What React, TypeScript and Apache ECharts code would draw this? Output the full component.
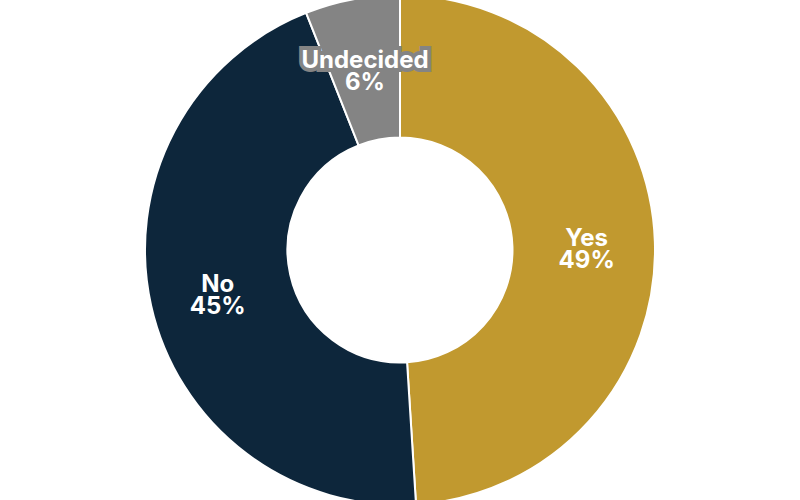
import React, { useEffect, useRef } from "react";
import * as echarts from "echarts";

const categories = ["Yes", "No", "Undecided"];
const values = [49, 45, 6];
const colors = ["#C1992F", "#0D263B", "#848484"];

export default function App() {
  const ref = useRef<HTMLDivElement>(null);
  useEffect(() => {
    document.body.style.margin = "0";
    const chart = echarts.init(ref.current!, null, { renderer: "svg" });
    chart.setOption({
      animation: false,
      series: [
        {
          type: "pie",
          center: ["50%", "50%"],
          radius: ["45%", "102%"],
          startAngle: 90,
          clockwise: true,
          avoidLabelOverlap: false,
          itemStyle: { borderColor: "#ffffff", borderWidth: 2 },
          label: {
            show: true,
            position: "inside",
            formatter: (p: any) => `${p.name}\n${p.value}%`,
            color: "#ffffff",
            fontFamily: "Inter",
            fontWeight: 700,
            fontSize: 24,
            lineHeight: 22,
            textBorderWidth: 0,
          },
          labelLayout: { dy: 4 },
          labelLine: { show: false },
          data: categories.map((c, i) => ({
            name: c,
            value: values[i],
            itemStyle: { color: colors[i] },
            label:
              c === "Undecided"
                ? { textBorderColor: colors[i], textBorderWidth: 8 }
                : undefined,
          })),
        },
      ],
    });
    return () => chart.dispose();
  }, []);
  return (
    <div
      ref={ref}
      style={{ position: "absolute", left: 0, top: 0, width: 800, height: 500 }}
    />
  );
}
